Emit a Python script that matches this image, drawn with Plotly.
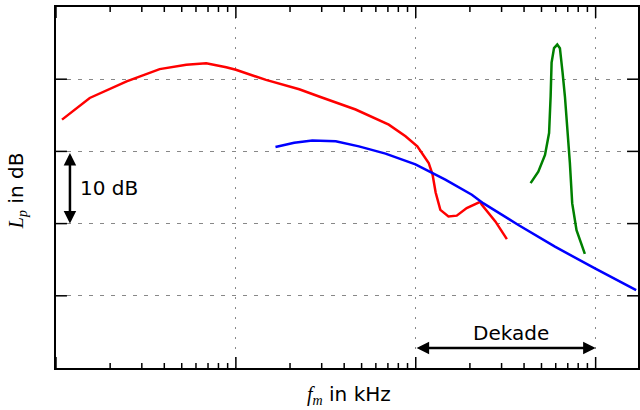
import plotly.graph_objects as go

# Frequencies in kHz, levels in dB
red_f = [0.108, 0.154, 0.247, 0.377, 0.530, 0.684, 0.883, 1.0, 1.47, 2.25, 2.90,
         4.63, 7.08, 8.77, 10.2, 11.8, 12.4, 12.9, 13.7, 15.2, 16.9, 19.2, 22.8,
         23.3, 27.7, 32.1]
red_db = [34.4, 37.4, 39.7, 41.4, 42.0, 42.2, 41.65, 41.3, 39.9, 38.6, 37.6,
          35.8, 33.7, 32.1, 30.7, 28.4, 26.8, 24.3, 21.9, 21.0, 21.1, 22.15, 23.0,
          22.6, 20.3, 17.85]

blue_f = [1.66, 2.11, 2.66, 3.59, 4.83, 6.79, 9.96, 14.6, 20.5, 23.8, 37.2, 59.4, 99.1, 168]
blue_db = [30.6, 31.2, 31.5, 31.4, 30.7, 29.7, 28.2, 26.1, 24.0, 22.8, 19.8, 16.8, 13.8, 10.8]

green_f = [43.5, 48.0, 52.3, 55.1, 56.2, 56.9, 58.7, 61.2, 63.3, 64.6, 65.5, 67.5,
           69.8, 71.9, 74.1, 78.3, 87.1]
green_db = [25.6, 27.2, 29.5, 32.55, 37.6, 42.3, 44.3, 44.8, 44.3, 42.7, 40.9, 37.6,
            33.0, 28.4, 22.8, 19.1, 15.8]

x_major = [0.1, 1, 10, 100]
x_minor = [m * d for d in [0.1, 1, 10, 100] for m in range(2, 10)]
y_ticks = [10, 20, 30, 40]

X_RANGE = [-1, 2.2355]
Y_RANGE = [0, 50]

W, H = 640, 410
ML, MR, MT, MB = 56, 0, 7, 42
PW, PH = W - ML - MR, H - MT - MB
DB_PER_PX = (Y_RANGE[1] - Y_RANGE[0]) / PH
DEC_PER_PX = (X_RANGE[1] - X_RANGE[0]) / PW

fig = go.Figure()

# tick marks (inside, all four sides) built from the tick lists
tx, ty = [], []
for vals, ln in [(x_major, 11), (x_minor, 5)]:
    d = ln * DB_PER_PX
    for v in vals:
        tx += [v, v, None, v, v, None]
        ty += [Y_RANGE[0], Y_RANGE[0] + d, None, Y_RANGE[1], Y_RANGE[1] - d, None]
xl, xr = 10 ** X_RANGE[0], 10 ** X_RANGE[1]
k = 10 ** (11 * DEC_PER_PX)
for v in y_ticks:
    tx += [xl, xl * k, None, xr, xr / k, None]
    ty += [v, v, None, v, v, None]
fig.add_trace(go.Scatter(x=tx, y=ty, mode="lines", line=dict(color="black", width=1.5),
                         showlegend=False, hoverinfo="skip"))

for f, db, c in [(red_f, red_db, "#ff0000"), (blue_f, blue_db, "#0000ff"), (green_f, green_db, "#008000")]:
    fig.add_trace(go.Scatter(x=f, y=db, mode="lines", line=dict(color=c, width=2.5), showlegend=False))

serif = "font-family:'Liberation Serif', 'DejaVu Serif', serif"

fig.update_layout(
    width=W, height=H, showlegend=False,
    margin=dict(l=ML, r=MR, t=MT, b=MB),
    plot_bgcolor="white",
    xaxis=dict(type="log", range=X_RANGE, showline=True, linewidth=2, linecolor="black",
               mirror=True, ticks="", tickmode="array", tickvals=x_major, showticklabels=False,
               showgrid=True, gridcolor="#888888", griddash="2px,8px", gridwidth=1),
    yaxis=dict(range=Y_RANGE, showline=True, linewidth=2, linecolor="black",
               mirror=True, ticks="", tickmode="array", tickvals=y_ticks, showticklabels=False,
               showgrid=True, gridcolor="#888888", griddash="4px,7px", gridwidth=1,
               zeroline=False),
)

ann = []
# 10 dB arrow (from 30 dB down to 20 dB)
xa = -1 + 14 / 180.5
ann.append(dict(x=xa, y=20, ax=0, ay=-10 / DB_PER_PX, xref="x", yref="y",
                text="", showarrow=True, arrowhead=2, arrowside="end+start",
                arrowsize=1, arrowwidth=2.5, arrowcolor="black"))
ann.append(dict(x=-1 + 22 / 180.5, y=25, xref="x", yref="y", text="10 dB",
                showarrow=False, xanchor="left", yanchor="middle",
                font=dict(size=20, family="DejaVu Sans", color="black")))
# Dekade arrow (one decade)
ann.append(dict(x=2, y=2.77, ax=-1 / DEC_PER_PX, ay=0, xref="x", yref="y",
                text="", showarrow=True, arrowhead=2, arrowside="end+start",
                arrowsize=1, arrowwidth=2.5, arrowcolor="black"))
ann.append(dict(x=1.529, y=4.85, xref="x", yref="y", text="Dekade",
                showarrow=False, xanchor="center", yanchor="middle",
                font=dict(size=20, family="DejaVu Sans", color="black")))
# axis titles
ann.append(dict(x=(350 - ML) / PW, y=-(395 - 368) / PH, xref="paper", yref="paper",
                text=f"<span style=\"{serif}\"><i>f</i><sub><i>m</i></sub></span> in kHz",
                showarrow=False, xanchor="center", yanchor="middle",
                font=dict(size=20, family="DejaVu Sans", color="black")))
ann.append(dict(x=(17 - ML) / PW, y=(368 - 191) / PH, xref="paper", yref="paper",
                text=f"<span style=\"{serif}\"><i>L</i><sub><i>p</i></sub></span> in dB",
                textangle=-90, showarrow=False, xanchor="center", yanchor="middle",
                font=dict(size=20, family="DejaVu Sans", color="black")))
fig.update_layout(annotations=ann)

fig.write_html("out.html")
